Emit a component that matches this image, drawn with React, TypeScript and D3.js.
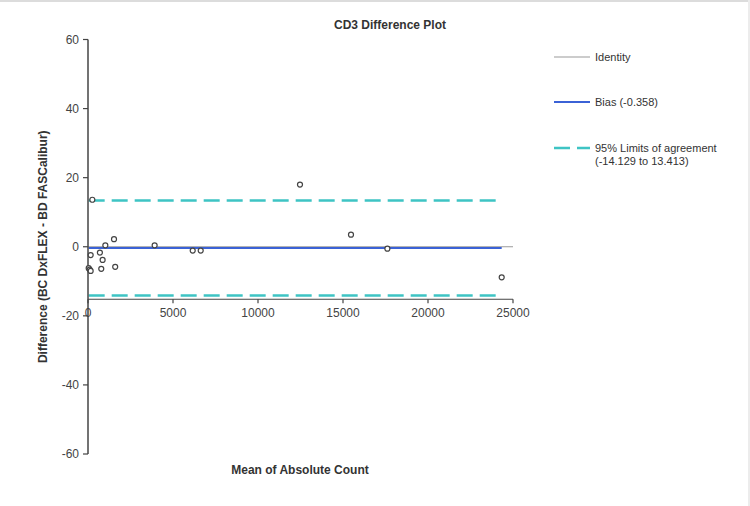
import React from 'react';
import * as d3 from 'd3';

// paired samples: mean of the two counts vs. their difference
const meanCount = [40, 100, 157, 157, 255, 700, 780, 860, 1020, 1530, 1600, 3920, 6160, 6630, 12470, 15470, 17610, 24335];
const difference = [-6.2, -6.6, -2.4, -7.0, 13.6, -1.7, -6.4, -3.8, 0.4, 2.2, -5.8, 0.4, -1.1, -1.1, 18.0, 3.5, -0.56, -8.85];

const bias = -0.358;
const lowerLimit = -14.129;
const upperLimit = 13.413;

const xTicks = [0, 5000, 10000, 15000, 20000, 25000];
const yTicks = [60, 40, 20, 0, -20, -40, -60];

const W = 750;
const H = 506;
const font = '"Liberation Sans", Arial, sans-serif';

const App: React.FC = () => {
  const x = d3.scaleLinear().domain([0, 25000]).range([88, 513]);
  const y = d3.scaleLinear().domain([-60, 60]).range([454, 39.5]);
  const xAxisAt = y(-15.2);

  const [xMin, xMax] = d3.extent(meanCount) as [number, number];
  const hline = (v: number, x0: number, x1: number) =>
    d3.line()([[x(x0), y(v)], [x(x1), y(v)]]) || '';

  const legend = [
    { label: ['Identity'], color: '#9a9a9a', width: 1.2, dash: undefined, y: 57 },
    { label: [`Bias (${bias})`], color: '#3b62d6', width: 2, dash: undefined, y: 102 },
    {
      label: ['95% Limits of agreement', `(${lowerLimit} to ${upperLimit})`],
      color: '#3ec4c4',
      width: 2.5,
      dash: '16 7',
      y: 148,
    },
  ];

  return (
    <svg
      width={W}
      height={H}
      style={{ position: 'absolute', left: 0, top: 0, background: '#fff' }}
      fontFamily={font}
    >
      <rect x={0} y={0} width={W} height={2} fill="#dcdcdc" />
      <rect x={W - 2} y={0} width={2} height={H} fill="#ececec" />

      <text x={390} y={29} textAnchor="middle" fontSize={12} fontWeight="bold" fill="#333">
        CD3 Difference Plot
      </text>

      {/* identity, bias and limits of agreement */}
      <path d={hline(0, 0, 25000)} stroke="#9a9a9a" strokeWidth={1.2} fill="none" />
      <path d={hline(bias, xMin, xMax)} stroke="#3b62d6" strokeWidth={2} fill="none" />
      <path d={hline(upperLimit, xMin, xMax)} stroke="#3ec4c4" strokeWidth={2.5} strokeDasharray="16 7" fill="none" />
      <path d={hline(lowerLimit, xMin, xMax)} stroke="#3ec4c4" strokeWidth={2.5} strokeDasharray="16 7" fill="none" />

      {/* y axis */}
      <line x1={x(0)} x2={x(0)} y1={y(60)} y2={y(-60)} stroke="#444" strokeWidth={1.5} />
      {yTicks.map((t) => (
        <g key={t}>
          <line x1={x(0) - 5} x2={x(0)} y1={y(t)} y2={y(t)} stroke="#444" strokeWidth={1.2} />
          <text x={x(0) - 9} y={y(t)} dy="0.35em" textAnchor="end" fontSize={12} fill="#444">
            {t}
          </text>
        </g>
      ))}

      {/* x axis */}
      <line x1={x(0)} x2={x(25000)} y1={xAxisAt} y2={xAxisAt} stroke="#444" strokeWidth={1.2} />
      {xTicks.map((t) => (
        <g key={t}>
          <line x1={x(t)} x2={x(t)} y1={xAxisAt} y2={xAxisAt + 4} stroke="#444" strokeWidth={1.2} />
          <text x={x(t)} y={xAxisAt + 14} dy="0.35em" textAnchor="middle" fontSize={12} fill="#444">
            {t}
          </text>
        </g>
      ))}

      {meanCount.map((m, i) => (
        <circle key={i} cx={x(m)} cy={y(difference[i])} r={2.5} fill="#fff" stroke="#444" strokeWidth={1.2} />
      ))}

      <text
        transform={`translate(47,${y(0)}) rotate(-90)`}
        textAnchor="middle"
        fontSize={12}
        fontWeight="bold"
        fill="#333"
      >
        Difference (BC DxFLEX  - BD FASCalibur)
      </text>
      <text x={300} y={474} textAnchor="middle" fontSize={12} fontWeight="bold" fill="#333">
        Mean of Absolute Count
      </text>

      {legend.map((l) => (
        <g key={l.label[0]}>
          <line x1={554} x2={590} y1={l.y} y2={l.y} stroke={l.color} strokeWidth={l.width} strokeDasharray={l.dash} />
          {l.label.map((s, j) => (
            <text key={s} x={595} y={l.y + j * 13} dy="0.35em" fontSize={11} fill="#333">
              {s}
            </text>
          ))}
        </g>
      ))}
    </svg>
  );
};

export default App;
